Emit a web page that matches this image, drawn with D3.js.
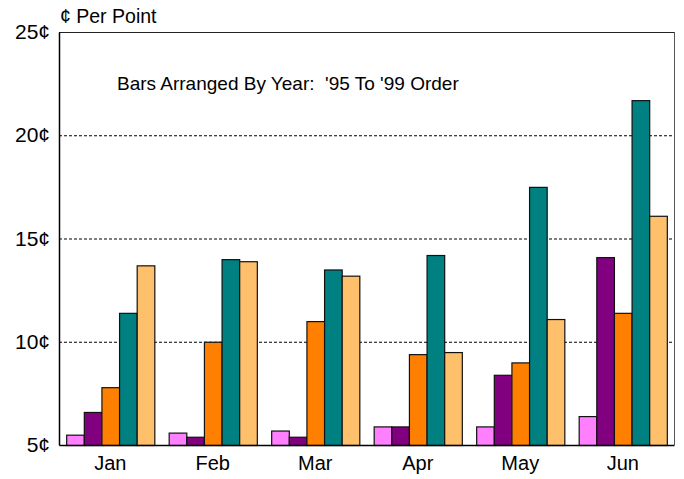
<!DOCTYPE html>
<html>
<head>
<meta charset="utf-8">
<script src="https://cdn.jsdelivr.net/npm/d3@7"></script>
<style>
  body { margin: 0; background: #fff; }
  svg { font-family: "Liberation Sans", Arial, sans-serif; }
  .grid line { stroke: #000; stroke-dasharray: 3,2; stroke-width: 1; }
</style>
</head>
<body>
<div id="chart"></div>
<script>
(function(window, d3){
  'use strict';

  var months = ['Jan', 'Feb', 'Mar', 'Apr', 'May', 'Jun'];
  var years = ['95', '96', '97', '98', '99'];
  var v95 = [5.5, 5.6, 5.7, 5.9, 5.9, 6.4];
  var v96 = [6.6, 5.4, 5.4, 5.9, 8.4, 14.1];
  var v97 = [7.8, 10.0, 11.0, 9.4, 9.0, 11.4];
  var v98 = [11.4, 14.0, 13.5, 14.2, 17.5, 21.7];
  var v99 = [13.7, 13.9, 13.2, 9.5, 11.1, 16.1];
  var yTicks = [5, 10, 15, 20, 25];
  var colors = ['#ff80ff', '#800080', '#ff8000', '#008080', '#ffc06c'];

  var series = [v95, v96, v97, v98, v99];

  var width = 684, height = 479;
  var margin = {top: 32, right: 10, bottom: 34, left: 59};
  var w = width - margin.left - margin.right;
  var h = height - margin.top - margin.bottom;

  var svg = d3.select('#chart').append('svg')
    .attr('width', width)
    .attr('height', height);

  var g = svg.append('g')
    .attr('transform', 'translate(' + margin.left + ',' + margin.top + ')');

  var x0 = d3.scaleBand().domain(months).range([0, w]);
  var x1 = d3.scaleBand().domain(years)
    .range([x0.bandwidth() * 0.07, x0.bandwidth() * 0.93]);
  var y = d3.scaleLinear().domain([5, 25]).range([h, 0]);

  // gridlines
  g.append('g').attr('class', 'grid')
    .selectAll('line')
    .data(yTicks.slice(1, -1))
    .enter().append('line')
    .attr('x1', 0).attr('x2', w)
    .attr('y1', function(d) { return y(d) + 0.5; })
    .attr('y2', function(d) { return y(d) + 0.5; });

  // frame top / right
  g.append('line')
    .attr('x1', 0).attr('x2', w)
    .attr('y1', 0.5).attr('y2', 0.5)
    .attr('stroke', '#222');
  g.append('line')
    .attr('x1', w + 0.5).attr('x2', w + 0.5)
    .attr('y1', 0).attr('y2', h)
    .attr('stroke', '#555');

  // bars
  var groups = g.selectAll('g.month')
    .data(months)
    .enter().append('g')
    .attr('class', 'month')
    .attr('transform', function(d) { return 'translate(' + x0(d) + ',0)'; });

  groups.selectAll('rect')
    .data(function(d, i) {
      return series.map(function(s, j) { return {year: years[j], value: s[i], k: j}; });
    })
    .enter().append('rect')
    .attr('x', function(d) { return x1(d.year) + 0.5; })
    .attr('y', function(d) { return y(d.value) + 0.5; })
    .attr('width', x1.bandwidth())
    .attr('height', function(d) { return h - y(d.value); })
    .attr('fill', function(d) { return colors[d.k]; })
    .attr('stroke', '#111')
    .attr('stroke-width', 1.2);

  // axes
  var yAxis = g.append('g')
    .call(d3.axisLeft(y).tickValues(yTicks).tickSize(0).tickPadding(9)
      .tickFormat(function(d) { return d + '\u00a2'; }));
  yAxis.select('.domain').attr('stroke', '#000').attr('stroke-width', 1.5);
  yAxis.selectAll('text').attr('font-size', 21).attr('fill', '#000')
    .attr('font-family', '"Liberation Sans", Arial, sans-serif');

  var xAxis = g.append('g')
    .attr('transform', 'translate(0,' + h + ')')
    .call(d3.axisBottom(x0).tickSize(0).tickPadding(11));
  xAxis.select('.domain').attr('stroke', '#000').attr('stroke-width', 1.5);
  xAxis.selectAll('text').attr('font-size', 20).attr('fill', '#000')
    .attr('font-family', '"Liberation Sans", Arial, sans-serif');

  // titles
  svg.append('text')
    .attr('x', 60).attr('y', 23)
    .attr('font-size', 19.5)
    .text('\u00a2 Per Point');

  svg.append('text')
    .attr('x', 117).attr('y', 90)
    .attr('font-size', 19)
    .attr('xml:space', 'preserve')
    .style('white-space', 'pre')
    .text("Bars Arranged By Year:  '95 To '99 Order");

})(window, window.d3);
</script>
</body>
</html>
